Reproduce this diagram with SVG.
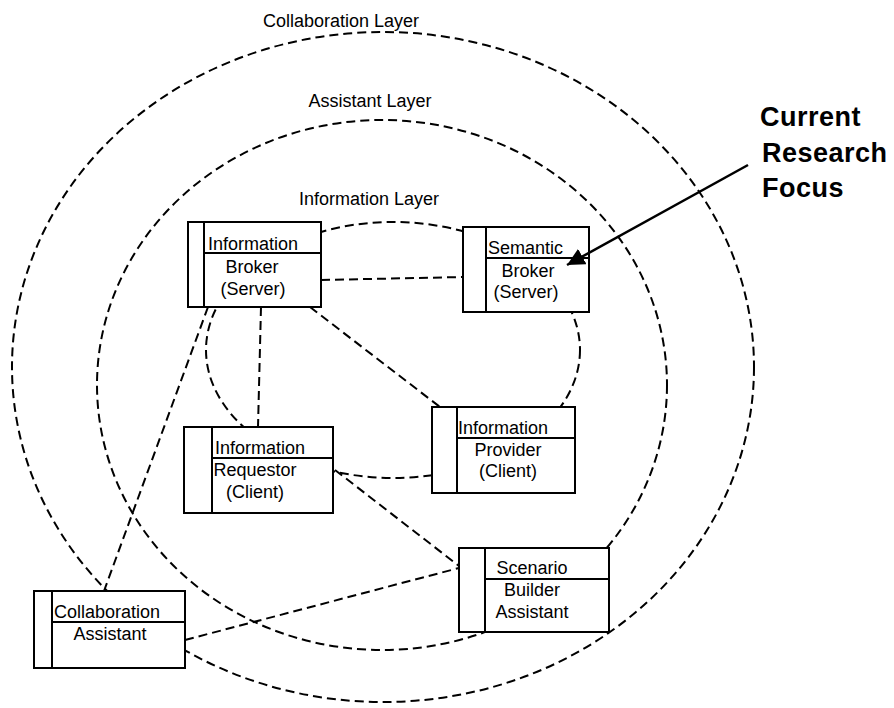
<svg xmlns="http://www.w3.org/2000/svg" width="894" height="708" viewBox="0 0 894 708">
  <style>
    .layer { fill: none; stroke: #000; stroke-width: 2; stroke-dasharray: 9 5; }
    .link { fill: none; stroke: #000; stroke-width: 2; stroke-dasharray: 9 5; }
    .box { fill: #fff; stroke: #000; stroke-width: 2; }
    .rule { stroke: #000; stroke-width: 2; }
    text { font-family: "Liberation Sans", Arial, sans-serif; fill: #000; }
    .lbl { font-size: 18px; }
    .cap { font-size: 18px; text-anchor: middle; }
    .focus { font-size: 27px; font-weight: bold; letter-spacing: 0.5px; }
  </style>
  <defs>
    <marker id="tri" viewBox="0 0 10 10" refX="10" refY="5" markerWidth="7" markerHeight="7" markerUnits="strokeWidth" orient="auto">
      <path d="M0,0 L10,5 L0,10 z" fill="#000"/>
    </marker>
  </defs>

  <!-- layer rings -->
  <g id="layers">
    <ellipse class="layer" cx="383" cy="367" rx="371" ry="335"/>
    <ellipse class="layer" cx="382" cy="385" rx="285" ry="265"/>
    <ellipse class="layer" cx="393" cy="350" rx="187" ry="128"/>
    <text class="cap" x="341" y="27">Collaboration Layer</text>
    <text class="cap" x="370" y="107">Assistant Layer</text>
    <text class="cap" x="369" y="205">Information Layer</text>
  </g>

  <!-- dashed associations between components -->
  <g id="connectors">
    <line class="link" x1="321" y1="280" x2="463" y2="277"/>
    <line class="link" x1="261" y1="307" x2="258" y2="427"/>
    <line class="link" x1="310" y1="307" x2="440" y2="407"/>
    <line class="link" x1="208" y1="307" x2="104" y2="591"/>
    <line class="link" x1="335" y1="470" x2="459" y2="566"/>
    <line class="link" x1="185" y1="640" x2="459" y2="568"/>
  </g>

  <g id="information-broker">
    <rect class="box" x="188" y="222" width="133" height="85"/>
    <line class="rule" x1="204" y1="222" x2="204" y2="307"/>
    <line class="rule" x1="204" y1="253" x2="321" y2="253"/>
    <text class="lbl" x="208" y="250">Information</text>
    <text class="cap" x="252" y="273">Broker</text>
    <text class="cap" x="253" y="295">(Server)</text>
  </g>

  <g id="semantic-broker">
    <rect class="box" x="463" y="227" width="126" height="85"/>
    <line class="rule" x1="486" y1="227" x2="486" y2="312"/>
    <line class="rule" x1="486" y1="258" x2="589" y2="258"/>
    <text class="lbl" x="488" y="254">Semantic</text>
    <text class="cap" x="528" y="277">Broker</text>
    <text class="cap" x="526" y="298">(Server)</text>
  </g>

  <g id="information-requestor">
    <rect class="box" x="184" y="427" width="149" height="86"/>
    <line class="rule" x1="212" y1="427" x2="212" y2="513"/>
    <line class="rule" x1="212" y1="458" x2="333" y2="458"/>
    <text class="lbl" x="215" y="454">Information</text>
    <text class="cap" x="255" y="476">Requestor</text>
    <text class="cap" x="255" y="498">(Client)</text>
  </g>

  <g id="information-provider">
    <rect class="box" x="432" y="407" width="143" height="86"/>
    <line class="rule" x1="457" y1="407" x2="457" y2="493"/>
    <line class="rule" x1="457" y1="438" x2="575" y2="438"/>
    <text class="lbl" x="458" y="434">Information</text>
    <text class="cap" x="508" y="456">Provider</text>
    <text class="cap" x="508" y="477">(Client)</text>
  </g>

  <g id="scenario-builder">
    <rect class="box" x="459" y="548" width="150" height="84"/>
    <line class="rule" x1="485" y1="548" x2="485" y2="632"/>
    <line class="rule" x1="485" y1="579" x2="609" y2="579"/>
    <text class="cap" x="532" y="574">Scenario</text>
    <text class="cap" x="532" y="596">Builder</text>
    <text class="cap" x="532" y="618">Assistant</text>
  </g>

  <g id="collaboration-assistant">
    <rect class="box" x="34" y="591" width="151" height="77"/>
    <line class="rule" x1="52" y1="591" x2="52" y2="668"/>
    <line class="rule" x1="52" y1="622" x2="185" y2="622"/>
    <text class="lbl" x="54" y="618">Collaboration</text>
    <text class="cap" x="110" y="640">Assistant</text>
  </g>

  <!-- callout -->
  <g id="research-focus">
    <text class="focus" x="760" y="126">Current</text>
    <text class="focus" x="762" y="162">Research</text>
    <text class="focus" x="762" y="197">Focus</text>
    <line x1="748" y1="165" x2="567" y2="265" stroke="#000" stroke-width="2.5" marker-end="url(#tri)"/>
  </g>
</svg>
